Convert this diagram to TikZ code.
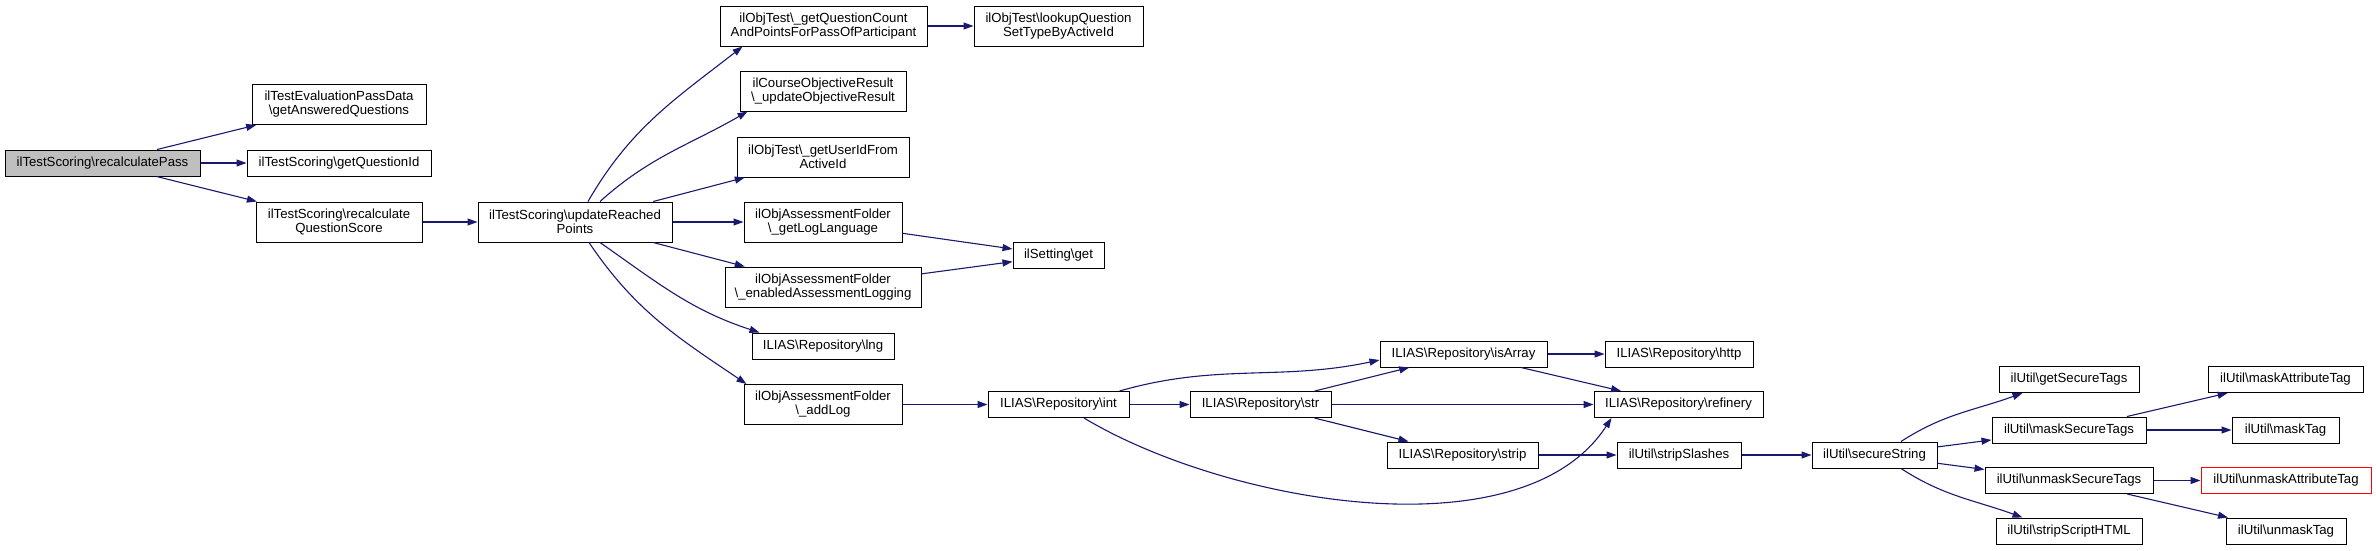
\documentclass[tikz,border=0pt]{standalone}
\usepackage{fontspec}
\setmainfont{Liberation Sans}
\usetikzlibrary{arrows.meta}
\definecolor{edgeblue}{RGB}{25,25,112}
\definecolor{rootgray}{RGB}{191,191,191}
\newcommand{\bsl}{\textbackslash}

\begin{document}
\begin{tikzpicture}[x=1pt, y=-1pt, >={Triangle[length=10pt,width=7pt]},
  fn/.style={draw, line width=1pt, inner sep=0pt, align=center, minimum height=26pt,
    font=\fontsize{13.2}{14}\selectfont},
  fntwo/.style={fn, minimum height=40pt},
  every edge/.style={draw=edgeblue, line width=1.1pt}]

\useasboundingbox (0,0) rectangle (2376,550);

% Define the functions
\node[fn, fill=rootgray, minimum width=195pt] (pass) at (102.5,163) {ilTestScoring\bsl recalculatePass};
\node[fntwo, minimum width=174pt] (answered) at (339,104.5) {ilTestEvaluationPassData\\\bsl getAnsweredQuestions};
\node[fn, minimum width=184pt] (qid) at (339,163) {ilTestScoring\bsl getQuestionId};
\node[fntwo, minimum width=166pt] (qscore) at (339,222) {ilTestScoring\bsl recalculate\\QuestionScore};
\node[fntwo, minimum width=194pt] (upd) at (575,222) {ilTestScoring\bsl updateReached\\Points};

\node[fntwo, minimum width=207pt] (count) at (823.5,26) {ilObjTest\bsl\_getQuestionCount\\AndPointsForPassOfParticipant};
\node[fntwo, minimum width=169pt] (lookup) at (1058.5,26) {ilObjTest\bsl lookupQuestion\\SetTypeByActiveId};
\node[fntwo, minimum width=166pt] (course) at (823,91) {ilCourseObjectiveResult\\\bsl\_updateObjectiveResult};
\node[fntwo, minimum width=172pt] (userid) at (823,157) {ilObjTest\bsl\_getUserIdFrom\\ActiveId};
\node[fntwo, minimum width=158pt] (loglang) at (823,222) {ilObjAssessmentFolder\\\bsl\_getLogLanguage};
\node[fn, minimum width=91pt] (setget) at (1058.5,255.5) {ilSetting\bsl get};
\node[fntwo, minimum width=196pt] (enabled) at (823,287) {ilObjAssessmentFolder\\\bsl\_enabledAssessmentLogging};
\node[fn, minimum width=142pt] (lng) at (823,346) {ILIAS\bsl Repository\bsl lng};
\node[fntwo, minimum width=158pt] (addlog) at (823,404.5) {ilObjAssessmentFolder\\\bsl\_addLog};

\node[fn, minimum width=141pt] (int) at (1058.5,404.5) {ILIAS\bsl Repository\bsl int};
\node[fn, minimum width=141pt] (str) at (1260.5,404.5) {ILIAS\bsl Repository\bsl str};
\node[fn, minimum width=167pt] (isarray) at (1463.5,354) {ILIAS\bsl Repository\bsl isArray};
\node[fn, minimum width=151pt] (strip) at (1462.5,455) {ILIAS\bsl Repository\bsl strip};
\node[fn, minimum width=148pt] (http) at (1679,354) {ILIAS\bsl Repository\bsl http};
\node[fn, minimum width=169pt] (refinery) at (1678.5,404.5) {ILIAS\bsl Repository\bsl refinery};
\node[fn, minimum width=124pt] (slashes) at (1679,455) {ilUtil\bsl stripSlashes};

\node[fn, minimum width=125pt] (secure) at (1874.5,455) {ilUtil\bsl secureString};
\node[fn, minimum width=140pt] (gettags) at (2069,379.5) {ilUtil\bsl getSecureTags};
\node[fn, minimum width=154pt] (masktags) at (2069,430) {ilUtil\bsl maskSecureTags};
\node[fn, minimum width=168pt] (unmasktags) at (2069,480.5) {ilUtil\bsl unmaskSecureTags};
\node[fn, minimum width=146pt] (striphtml) at (2069,531) {ilUtil\bsl stripScriptHTML};
\node[fn, minimum width=155pt] (maskattr) at (2285.5,379.5) {ilUtil\bsl maskAttributeTag};
\node[fn, minimum width=107pt] (masktag) at (2285.5,430) {ilUtil\bsl maskTag};
\node[fn, draw=red, minimum width=170pt] (unmaskattr) at (2286,480.5) {ilUtil\bsl unmaskAttributeTag};
\node[fn, minimum width=120pt] (unmasktag) at (2286,531) {ilUtil\bsl unmaskTag};

% Calls
\path[->]
    (pass) edge (answered)
           edge (qid)
           edge (qscore)
    (qscore) edge (upd)
    ([xshift=13pt]upd.north) edge[out=60, in=218] ([xshift=23pt]count.south west)
    ([xshift=25pt]upd.north) edge[out=42, in=210] ([xshift=8pt]course.south west)
    (upd) edge (userid)
          edge (loglang)
          edge (enabled)
    ([xshift=25pt]upd.south) edge[out=-35, in=162] ([xshift=8pt]lng.north west)
    ([xshift=14pt]upd.south) edge[out=-56, in=146] ([xshift=3pt]addlog.north west)
    (count) edge (lookup)
    (loglang) edge (setget)
    (enabled) edge (setget)
    (addlog) edge (int)
    ([xshift=-10pt]int.north east) edge[out=16, in=192] ([yshift=-6pt]isarray.west)
    (int) edge (str)
    ([xshift=25.5pt]int.south) edge[out=-31, in=-123, looseness=0.8] ([xshift=18pt]refinery.south west)
    (str) edge (isarray)
          edge (refinery)
          edge (strip)
    (isarray) edge (http)
              edge (refinery)
    (strip) edge (slashes)
    (slashes) edge (secure)
    ([xshift=26.5pt]secure.north) edge[out=33, in=200] ([xshift=24pt]gettags.south west)
    (secure) edge (masktags)
             edge (unmasktags)
    ([xshift=26.5pt]secure.south) edge[out=-33, in=160] ([xshift=27pt]striphtml.north west)
    (masktags) edge (maskattr)
               edge (masktag)
    (unmasktags) edge (unmaskattr)
                 edge (unmasktag);

\end{tikzpicture}
\end{document}
